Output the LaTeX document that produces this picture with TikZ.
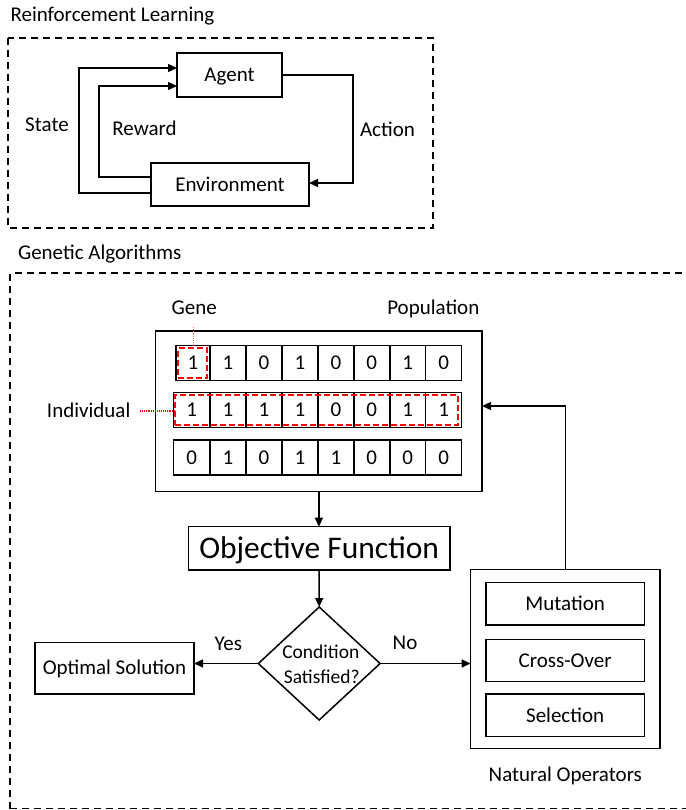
\documentclass[tikz,border=0pt]{standalone}
\usepackage{fontspec}
\setmainfont{Carlito}
\usetikzlibrary{arrows.meta,shapes.geometric}

\begin{document}
\begin{tikzpicture}[x=1pt,y=-1pt,
  every node/.style={inner sep=0pt,outer sep=0pt},
  lbl/.style={font=\fontsize{21}{25}\selectfont,text height=13.5pt,text depth=0pt},
  small/.style={font=\fontsize{19.5}{23}\selectfont,text height=12.6pt,text depth=0pt},
  big/.style={font=\fontsize{31.5}{36}\selectfont,text height=20.3pt,text depth=0pt},
  box/.style={draw,line width=1.5pt,lbl},
  cell/.style={draw,line width=1.5pt,minimum height=35pt,lbl},
  conn/.style={line width=1.4pt,-{Triangle[length=9pt,width=8pt]}},
  frame/.style={line width=1.6pt,dash pattern=on 7pt off 5pt},
  redbox/.style={draw=red,line width=2pt,dash pattern=on 6pt off 3pt},
  genelink/.style={draw=red!55,line width=1.2pt,densely dotted},
  indlink/.style={draw=red,line width=1.1pt,densely dotted},
]
\useasboundingbox (0,0) rectangle (685,810);

% ---------- Reinforcement learning loop ----------
\node[lbl,anchor=base west] (rltitle) at (10.5,21.7) {Reinforcement Learning};
\draw[frame] (8,38) rectangle (433,228);

\node[box,minimum width=105pt,minimum height=44pt] (agent) at (229.5,75) {Agent};
\node[box,minimum width=158pt,minimum height=43pt] (env) at (230,184.5) {Environment};

\draw[conn] (env.west |- 0,193) -| (79,68) -- (agent.west |- 0,68);
\draw[conn] (env.west |- 0,177) -| (99,86) -- (agent.west |- 0,86);
\draw[conn] (agent.east |- 0,75) -| (353,183) -- (env.east |- 0,183);

\node[lbl] (state) at (47,124.7) {State};
\node[lbl] (reward) at (144.5,128.7) {Reward};
\node[lbl] (action) at (387.5,130) {Action};

% ---------- Genetic algorithm ----------
\node[lbl,anchor=base west] (gatitle) at (18,259.5) {Genetic Algorithms};
\draw[frame] (10,808.5) -- (10,273) -- (700,273);
\draw[frame] (10,808.5) -- (700,808.5);

% population
\node[draw,line width=1.5pt,minimum width=326.3pt,minimum height=160.7pt] (pop) at (318.85,411.35) {};
\node[lbl] (genelbl) at (194.2,307.5) {Gene};
\node[lbl] (poplbl) at (433.3,307.5) {Population};
\node[lbl] (indlbl) at (88.7,411) {Individual};

% chromosome rows
\foreach \d [count=\k] in {1,1,0,1,0,0,1,0} {
  \pgfmathsetmacro\xl{\k==1 ? 176 : 210+35.95*(\k-2)}
  \pgfmathsetmacro\xr{210+35.95*(\k-1)}
  \node[cell,minimum width={\xr-\xl}] (ra\k) at ({(\xl+\xr)/2},363.2) {\d};
}
\foreach \d [count=\k] in {1,1,1,1,0,0,1,1} {
  \pgfmathsetmacro\xl{\k==1 ? 173.5 : 210+35.95*(\k-2)}
  \pgfmathsetmacro\xr{210+35.95*(\k-1)}
  \node[cell,minimum width={\xr-\xl}] (rb\k) at ({(\xl+\xr)/2},410) {\d};
}
\foreach \d [count=\k] in {0,1,0,1,1,0,0,0} {
  \pgfmathsetmacro\xl{\k==1 ? 173.5 : 210+35.95*(\k-2)}
  \pgfmathsetmacro\xr{210+35.95*(\k-1)}
  \node[cell,minimum width={\xr-\xl}] (rc\k) at ({(\xl+\xr)/2},457.5) {\d};
}

% highlighted gene and individual
\node[redbox,minimum width=29pt,minimum height=29.4pt] (genebox) at (192.8,363) {};
\node[redbox,minimum width=283.3pt,minimum height=29.7pt] (indbox) at (316.65,410.15) {};
\coordinate (genetop) at (193.3,326.7);
\coordinate (indtail) at (140,411);
\draw[genelink] (genetop) -- (genetop |- genebox.north);
\draw[indlink] (indtail) -- (indtail -| indbox.west);

% objective function and decision
\node[draw,line width=1.5pt,big,minimum width=261.7pt,minimum height=43.3pt] (obj) at (319.15,548.35) {Objective Function};
\node[draw,line width=1.5pt,shape=diamond,minimum width=121.7pt,minimum height=113pt] (cond) at (319.2,663.5) {};
\node[small] (condA) at (320.8,651.7) {Condition};
\node[small] (condB) at (321.7,677.5) {Satisfied?};

\node[box,minimum width=159pt,minimum height=51.7pt] (opt) at (114.5,668.15) {Optimal Solution};

% natural operators
\node[draw,line width=1.5pt,minimum width=189.3pt,minimum height=179pt] (natop) at (565.35,658.8) {};
\node[box,minimum width=158.3pt,minimum height=42.3pt] (mut) at (565.15,603.85) {Mutation};
\node[box,minimum width=158.3pt,minimum height=42.4pt] (cross) at (565.15,660.5) {Cross-Over};
\node[box,minimum width=158.3pt,minimum height=42.7pt] (sel) at (565.15,715.35) {Selection};
\node[lbl] (natlbl) at (565.3,774.5) {Natural Operators};

% flow
\draw[conn] (pop.south) -- (pop.south |- obj.north);
\draw[conn] (obj.south) -- (cond.north);
\draw[conn] (cond.west) -- (opt.east |- cond.west);
\draw[conn] (cond.east) -- (natop.west |- cond.east);
\draw[conn] (natop.north) |- (pop.east |- 0,406);

\node[lbl] (yes) at (228.3,643.7) {Yes};
\node[lbl] (no) at (405,642.5) {No};
\end{tikzpicture}
\end{document}
